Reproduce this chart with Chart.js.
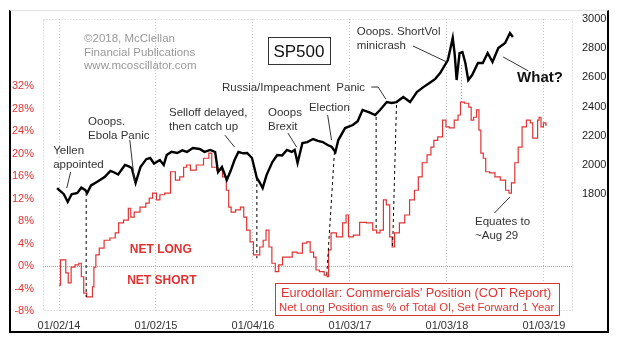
<!DOCTYPE html>
<html>
<head>
<meta charset="utf-8">
<script src="https://cdn.jsdelivr.net/npm/chart.js@4.4.1/dist/chart.umd.min.js"></script>
<style>
  html, body { margin: 0; padding: 0; background: #fff; }
  #wrap { position: relative; width: 618px; height: 343px; }
  #frame { position: absolute; left: 9px; top: 10px; width: 596px; height: 320px;
           border-left: 2px solid #000; border-right: 2px solid #000; border-bottom: 2px solid #000;
           border-top: 1px solid #e4e4e4; pointer-events: none; }
</style>
</head>
<body>
<div id="wrap">
  <canvas id="chart" width="618" height="343"></canvas>
  <div id="frame"></div>
</div>
<script>
// SP500 (right axis), x = decimal year
const spYears  = [2013.98, 2014.00, 2014.05, 2014.09, 2014.13, 2014.19, 2014.23, 2014.27, 2014.29, 2014.33, 2014.39, 2014.47, 2014.53, 2014.56, 2014.61, 2014.68, 2014.72, 2014.75, 2014.79, 2014.84, 2014.90, 2014.94, 2014.98, 2015.04, 2015.08, 2015.11, 2015.16, 2015.22, 2015.27, 2015.32, 2015.38, 2015.45, 2015.50, 2015.56, 2015.61, 2015.64, 2015.68, 2015.73, 2015.77, 2015.81, 2015.85, 2015.90, 2015.94, 2015.99, 2016.04, 2016.07, 2016.10, 2016.14, 2016.20, 2016.25, 2016.30, 2016.35, 2016.40, 2016.43, 2016.46, 2016.51, 2016.56, 2016.62, 2016.67, 2016.72, 2016.77, 2016.81, 2016.85, 2016.88, 2016.95, 2017.03, 2017.08, 2017.13, 2017.20, 2017.26, 2017.31, 2017.38, 2017.43, 2017.48, 2017.55, 2017.62, 2017.69, 2017.75, 2017.82, 2017.88, 2017.93, 2018.01, 2018.06, 2018.08, 2018.10, 2018.13, 2018.16, 2018.19, 2018.22, 2018.26, 2018.32, 2018.37, 2018.42, 2018.47, 2018.53, 2018.60, 2018.65, 2018.68];
const spValues = [1842, 1829, 1800, 1747, 1800, 1808, 1845, 1829, 1808, 1860, 1884, 1918, 1960, 1952, 1935, 2000, 1990, 1979, 1877, 1986, 2040, 2048, 2010, 2034, 2000, 2068, 2090, 2082, 2100, 2089, 2116, 2110, 2090, 2103, 2089, 1952, 1986, 1897, 1960, 2034, 2089, 2080, 2082, 2048, 1911, 1880, 1842, 1931, 2020, 2068, 2065, 2103, 2090, 2103, 2014, 2151, 2157, 2178, 2165, 2157, 2137, 2125, 2089, 2171, 2253, 2274, 2300, 2377, 2360, 2342, 2377, 2431, 2425, 2431, 2466, 2431, 2500, 2530, 2562, 2590, 2630, 2719, 2870, 2760, 2582, 2767, 2774, 2699, 2582, 2616, 2699, 2699, 2767, 2705, 2801, 2836, 2904, 2877];

// Eurodollar commercials net long % of OI, set forward 1 year (left axis)
const cotYears  = [2014.00, 2014.03, 2014.06, 2014.08, 2014.11, 2014.14, 2014.19, 2014.22, 2014.24, 2014.27, 2014.30, 2014.34, 2014.35, 2014.37, 2014.39, 2014.44, 2014.49, 2014.56, 2014.60, 2014.63, 2014.70, 2014.73, 2014.75, 2014.80, 2014.87, 2014.92, 2014.94, 2014.99, 2015.02, 2015.06, 2015.12, 2015.18, 2015.22, 2015.27, 2015.30, 2015.33, 2015.38, 2015.45, 2015.53, 2015.56, 2015.59, 2015.66, 2015.71, 2015.74, 2015.76, 2015.79, 2015.85, 2015.89, 2015.92, 2015.95, 2015.99, 2016.02, 2016.05, 2016.09, 2016.12, 2016.15, 2016.18, 2016.21, 2016.25, 2016.28, 2016.33, 2016.38, 2016.43, 2016.48, 2016.54, 2016.57, 2016.61, 2016.64, 2016.66, 2016.71, 2016.76, 2016.77, 2016.79, 2016.82, 2016.90, 2016.95, 2016.97, 2017.00, 2017.07, 2017.13, 2017.21, 2017.26, 2017.29, 2017.33, 2017.36, 2017.39, 2017.43, 2017.44, 2017.48, 2017.54, 2017.59, 2017.64, 2017.69, 2017.72, 2017.77, 2017.82, 2017.85, 2017.88, 2017.93, 2017.98, 2018.00, 2018.05, 2018.10, 2018.13, 2018.15, 2018.21, 2018.24, 2018.26, 2018.29, 2018.32, 2018.34, 2018.36, 2018.39, 2018.41, 2018.47, 2018.52, 2018.58, 2018.63, 2018.65, 2018.68, 2018.72, 2018.75, 2018.80, 2018.84, 2018.88, 2018.89, 2018.93, 2018.94, 2018.96, 2018.98, 2019.01, 2019.03];
const cotValues = [-3.4, 1.1, 1.1, -1.2, -3.0, -0.2, 0.2, 0.5, -1.9, -4.8, -5.5, -5.5, -3.7, -0.2, 2.0, 3.2, 4.6, 5.0, 5.9, 7.7, 8.2, 10.3, 8.7, 9.6, 10.5, 11.2, 12.1, 13.0, 11.8, 12.7, 13.0, 16.8, 15.3, 15.9, 17.6, 18.0, 17.1, 18.0, 19.2, 20.1, 17.6, 17.1, 15.9, 13.5, 10.5, 9.6, 10.0, 10.5, 8.7, 6.4, 4.3, 2.0, 2.0, 3.4, 4.6, 6.4, 3.4, 0.5, -1.0, 0.2, 1.6, 1.6, 2.5, 2.3, 4.1, 4.3, 2.5, 1.6, -0.7, -1.0, -1.6, -1.9, 2.9, 5.9, 5.2, 7.7, 9.1, 5.2, 5.5, 7.8, 7.7, 6.4, 5.9, 6.4, 11.8, 10.9, 5.2, 3.4, 5.9, 7.7, 9.1, 11.8, 13.5, 15.9, 18.4, 19.8, 21.2, 22.4, 23.0, 26.0, 24.8, 24.6, 26.0, 26.9, 29.2, 29.0, 28.3, 26.0, 26.5, 27.8, 24.2, 20.1, 19.2, 16.8, 16.6, 15.9, 15.3, 13.5, 13.0, 14.8, 18.4, 21.2, 24.8, 26.0, 25.5, 22.8, 22.8, 26.0, 26.5, 24.8, 25.5, 25.1];

const xTickYears  = [2014, 2015, 2016, 2017, 2018, 2019];
const xTickLabels = ['01/02/14', '01/02/15', '01/04/16', '01/03/17', '01/03/18', '01/03/19'];
const pctTicks = [-8, -4, 0, 4, 8, 12, 16, 20, 24, 28, 32];
const spTicks  = [1800, 2000, 2200, 2400, 2600, 2800, 3000];

// notes are anchored in data units (x = year, y = SP500)
const notes = [
  { lines: ['Yellen', 'appointed'], x: 2013.94, y: 2096 },
  { lines: ['Ooops.', 'Ebola Panic'], x: 2014.30, y: 2294 },
  { lines: ['Selloff delayed,', 'then catch up'], x: 2015.134, y: 2356 },
  { lines: ['Ooops', 'Brexit'], x: 2016.155, y: 2356 },
  { lines: ['Election'], x: 2016.577, y: 2390 },
  { lines: ['Russia/Impeachment  Panic'], x: 2015.68, y: 2527 },
  { lines: ['Ooops. ShortVol', 'minicrash'], x: 2017.07, y: 2911 },
  { lines: ['Equates to', '~Aug 29'], x: 2018.29, y: 1610 },
];
const leaders = [
  [[2014.12, 1952], [2014.08, 1842]],
  [[2014.73, 2171], [2014.78, 1877]],
  [[2015.71, 2205], [2015.81, 2123]],
  [[2016.36, 2219], [2016.45, 2123]],
  [[2016.77, 2342], [2016.81, 2171]],
  [[2017.22, 2534], [2017.29, 2534], [2017.37, 2452]],
  [[2017.65, 2815], [2018.00, 2705]],
  [[2018.58, 2740], [2018.84, 2644]],
  [[2018.65, 1781], [2018.49, 1671]],
];
// links: SP500 point -> COT point
const links = [
  [2014.28, 1808, 2014.28, -5.5],
  [2016.04, 1911, 2016.04, 1.4],
  [2016.84, 2089, 2016.76, -1.9],
  [2017.27, 2329, 2017.27, 6.4],
  [2017.48, 2411, 2017.44, 3.4],
];
const grayLink = [2018.15, 2685, 2018.15, 29.2];

const FONT = '"Liberation Sans", Arial, sans-serif';
const RED = '#e03434';

const overlay = {
  id: 'overlay',
  beforeDatasetsDraw(chart) {
    const { ctx, chartArea: a, scales } = chart;
    ctx.save();
    ctx.strokeStyle = '#c4c4c4';
    ctx.lineWidth = 1;
    ctx.setLineDash([1, 2]);
    ctx.strokeRect(a.left + 0.5, a.top + 0.5, a.right - a.left - 1, a.bottom - a.top - 1);
    // zero line
    const y0 = Math.round(scales.pct.getPixelForValue(0)) + 0.5;
    ctx.strokeStyle = '#f08a8a';
    ctx.setLineDash([1, 1]);
    ctx.beginPath(); ctx.moveTo(a.left, y0); ctx.lineTo(a.right, y0); ctx.stroke();
    ctx.restore();
  },
  afterDatasetsDraw(chart) {
    const { ctx, chartArea: a, scales } = chart;
    const X = v => scales.x.getPixelForValue(v);
    const S = v => scales.sp.getPixelForValue(v);
    const P = v => scales.pct.getPixelForValue(v);
    ctx.save();

    // dashed links
    ctx.strokeStyle = '#000';
    ctx.lineWidth = 1;
    ctx.setLineDash([3, 3]);
    links.forEach(l => {
      ctx.beginPath(); ctx.moveTo(X(l[0]), S(l[1])); ctx.lineTo(X(l[2]), P(l[3])); ctx.stroke();
    });
    ctx.strokeStyle = '#999';
    ctx.setLineDash([1, 2]);
    ctx.beginPath(); ctx.moveTo(X(grayLink[0]), S(grayLink[1])); ctx.lineTo(X(grayLink[2]), P(grayLink[3])); ctx.stroke();

    // leader lines
    ctx.setLineDash([]);
    ctx.strokeStyle = '#333';
    leaders.forEach(pts => {
      ctx.beginPath();
      pts.forEach((p, i) => i ? ctx.lineTo(X(p[0]), S(p[1])) : ctx.moveTo(X(p[0]), S(p[1])));
      ctx.stroke();
    });

    // notes
    ctx.textBaseline = 'middle';
    ctx.textAlign = 'left';
    ctx.fillStyle = '#333';
    ctx.font = '11.5px ' + FONT;
    notes.forEach(n => n.lines.forEach((t, i) => ctx.fillText(t, X(n.x), S(n.y) + i * 13.5)));

    // copyright
    ctx.fillStyle = '#999';
    ['\u00a92018, McClellan', 'Financial Publications', 'www.mcoscillator.com']
      .forEach((t, i) => ctx.fillText(t, X(2014.258), S(2863) + i * 13.5));

    // SP500 box
    const bx = X(2016.474), by = S(2781);
    ctx.fillStyle = '#fff';
    ctx.fillRect(bx - 31, by - 13.5, 62, 27);
    ctx.strokeStyle = '#333';
    ctx.lineWidth = 1;
    ctx.strokeRect(Math.round(bx - 31) + 0.5, Math.round(by - 13.5) + 0.5, 62, 27);
    ctx.fillStyle = '#111';
    ctx.textAlign = 'center';
    ctx.font = '17px ' + FONT;
    ctx.fillText('SP500', bx, by + 1);

    // What?
    ctx.font = 'bold 15px ' + FONT;
    ctx.fillText('What?', X(2018.96), S(2596));

    // net long / short
    ctx.fillStyle = RED;
    ctx.font = 'bold 12px ' + FONT;
    ctx.fillText('NET LONG', X(2015.05), P(2.86));
    ctx.fillText('NET SHORT', X(2015.06), P(-2.66));

    // legend box
    const L = a.left + 232, R = a.right - 14, T = a.bottom - 28, B = a.bottom + 4;
    ctx.fillStyle = '#fff';
    ctx.fillRect(L, T, R - L, B - T);
    ctx.strokeStyle = RED;
    ctx.strokeRect(L + 0.5, T + 0.5, R - L, B - T);
    ctx.fillStyle = RED;
    ctx.textAlign = 'left';
    ctx.font = '12.7px ' + FONT;
    ctx.fillText("Eurodollar: Commercials' Position (COT Report)", L + 6, T + 10);
    ctx.font = '11.3px ' + FONT;
    ctx.fillText('Net Long Position as % of Total OI, Set Forward 1 Year', L + 4, T + 25);
    ctx.restore();
  }
};

new Chart(document.getElementById('chart'), {
  type: 'line',
  data: {
    datasets: [
      { label: 'SP500', data: spYears.map((x, i) => ({ x, y: spValues[i] })), yAxisID: 'sp',
        borderColor: '#000', borderWidth: 2.4, pointRadius: 0, tension: 0 },
      { label: 'COT', data: cotYears.map((x, i) => ({ x, y: cotValues[i] })), yAxisID: 'pct',
        borderColor: RED, borderWidth: 1.2, pointRadius: 0, stepped: 'middle' },
    ],
  },
  options: {
    responsive: false, animation: false,
    layout: { padding: { top: 19, left: 0, right: 0, bottom: 0 } },
    plugins: { legend: { display: false }, tooltip: { enabled: false } },
    scales: {
      x: {
        type: 'linear', min: 2013.835, max: 2019.30,
        afterBuildTicks: axis => { axis.ticks = xTickYears.map(v => ({ value: v })); },
        afterFit: axis => { axis.height = 32; },
        ticks: { color: '#333', font: { family: FONT, size: 11 }, padding: 8, maxRotation: 0, autoSkip: false,
                 callback: v => xTickLabels[xTickYears.indexOf(v)] },
        grid: { color: '#c4c4c4', drawTicks: false },
        border: { display: false, dash: [1, 2] },
      },
      pct: {
        position: 'left', min: -8, max: 44,
        afterBuildTicks: axis => { axis.ticks = pctTicks.map(v => ({ value: v })); },
        afterFit: axis => { axis.width = 43; },
        ticks: { color: RED, font: { family: FONT, size: 11 }, padding: 9, callback: v => v + '%' },
        grid: { display: false, drawTicks: false },
        border: { display: false },
      },
      sp: {
        position: 'right', min: 1000, max: 3000,
        afterBuildTicks: axis => { axis.ticks = spTicks.map(v => ({ value: v })); },
        afterFit: axis => { axis.width = 45; },
        ticks: { color: '#222', font: { family: FONT, size: 11 }, padding: 9, callback: v => String(v) },
        grid: { display: false, drawTicks: false },
        border: { display: false },
      },
    },
  },
  plugins: [overlay],
});
</script>
</body>
</html>
